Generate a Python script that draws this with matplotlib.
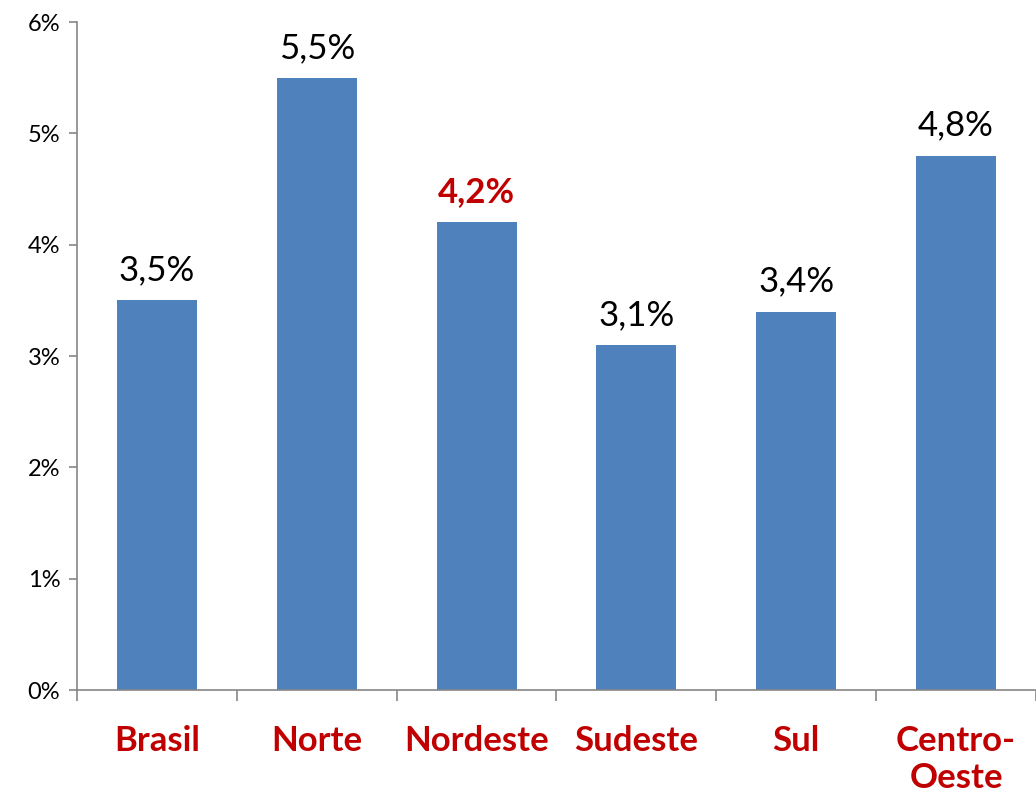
import matplotlib
matplotlib.use("Agg")
import matplotlib.pyplot as plt
import matplotlib.ticker as mtick
import numpy as np

# ── Data ──────────────────────────────────────────────────────────────────────
regions = ["Brasil", "Norte", "Nordeste", "Sudeste", "Sul", "Centro-\nOeste"]
values  = [3.5, 5.5, 4.2, 3.1, 3.4, 4.8]
labels  = ["3,5%", "5,5%", "4,2%", "3,1%", "3,4%", "4,8%"]
highlight = "Nordeste"

_BAR   = "#4F81BD"
_RED   = "#C00000"
_SPINE = "#868686"

plt.rcParams["font.family"] = ["Lato", "DejaVu Sans"]

fig = plt.figure(figsize=(10.36, 7.95), dpi=100)
ax = fig.add_axes([0.0743, 0.132, 0.9257, 0.8403])

x = np.arange(len(regions))
ax.bar(x, values, width=0.5, color=_BAR, zorder=2)

for xi, v, lab, reg in zip(x, values, labels, regions):
    hot = reg == highlight
    ax.annotate(lab, (xi, v), xytext=(0, 10), textcoords="offset points",
                ha="center", va="bottom", fontsize=25,
                color=_RED if hot else "black",
                fontweight="bold" if hot else "normal")

ax.set_xlim(-0.5, len(regions) - 0.5)
ax.set_ylim(0, 6)
ax.yaxis.set_major_locator(mtick.MultipleLocator(1))
ax.yaxis.set_major_formatter(mtick.FuncFormatter(lambda v, _: f"{v:.0f}%"))

# boundary ticks (major) without labels, centered labels on minor ticks
ax.set_xticks(np.arange(-0.5, len(regions)), labels=[""] * (len(regions) + 1))
ax.set_xticks(x, labels=regions, minor=True)
ax.tick_params(axis="x", which="major", length=8, width=1.2, color=_SPINE)
ax.tick_params(axis="x", which="minor", length=0, pad=25, labelsize=25,
               labelcolor=_RED)
for t in ax.get_xticklabels(minor=True):
    t.set_fontweight("bold")
    t.set_linespacing(1.2)
ax.tick_params(axis="y", length=6, width=1.2, color=_SPINE, labelsize=17, pad=6)

for side in ("top", "right"):
    ax.spines[side].set_visible(False)
for side in ("left", "bottom"):
    ax.spines[side].set_color(_SPINE)
    ax.spines[side].set_linewidth(1.2)

fig.savefig("out.png", dpi=100, facecolor="white")
